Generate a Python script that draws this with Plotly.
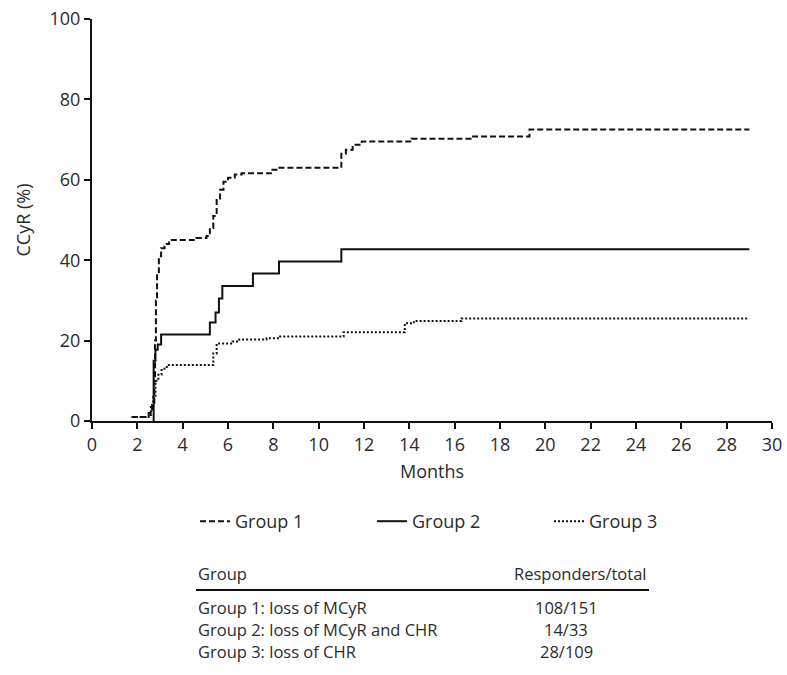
import plotly.graph_objects as go

# ---- data (months, CCyR %) ----
g1_months = [1.75, 2.5, 2.65, 2.75, 2.78, 2.82, 2.87, 2.95, 3.05, 3.2, 3.4, 4.6, 5.05, 5.2, 5.35, 5.5,
             5.65, 5.8, 6.0, 6.3, 6.6, 7.9, 8.2, 11.0, 11.2, 11.5, 11.9, 14.1, 16.7, 19.3, 29.0]
g1_ccyr = [1.0, 2.0, 4.0, 10.0, 20.0, 30.0, 37.0, 41.0, 43.0, 44.0, 45.0, 45.5, 46.0, 48.0, 51.0, 55.0,
           57.5, 59.5, 60.5, 61.3, 61.6, 62.5, 63.0, 66.5, 67.5, 68.7, 69.5, 70.2, 70.8, 72.5, 72.5]

g2_months = [2.7, 2.72, 2.8, 2.9, 3.05, 5.2, 5.45, 5.6, 5.75, 7.1, 8.25, 11.0, 29.0]
g2_ccyr = [0.0, 15.0, 17.7, 19.0, 21.5, 24.5, 27.0, 30.5, 33.6, 36.7, 39.7, 42.7, 42.7]

g3_months = [1.75, 2.5, 2.6, 2.7, 2.8, 2.93, 3.07, 3.3, 5.35, 5.5, 6.2, 6.5, 7.7, 8.3, 11.1,
             13.8, 14.2, 16.3, 29.0]
g3_ccyr = [1.0, 1.5, 3.5, 6.0, 10.0, 11.5, 13.0, 13.9, 16.8, 19.3, 19.8, 20.3, 20.6, 21.0, 22.1,
           24.3, 24.9, 25.5, 25.5]

series_names = ["Group 1", "Group 2", "Group 3"]
table_header = ["Group", "Responders/total"]
table_groups = ["Group 1: loss of MCyR", "Group 2: loss of MCyR and CHR", "Group 3: loss of CHR"]
table_ratios = ["108/151", "14/33", "28/109"]

x_ticks = list(range(0, 31, 2))
y_ticks = list(range(0, 101, 20))

# ---- styling ----
FONT = "Open Sans"
INK = "#111111"
TXT = "#2b2b2b"
FS = 18
FS_TAB = 16.5
W, H = 787, 675
L, R, T, B = 92, 15, 19, 254
PW = W - L - R
PH = H - T - B


def px(xp):
    return (xp - L) / PW


def py(yp):
    return (H - B - yp) / PH


fig = go.Figure()
styles = [dict(dash="6px,3px", width=2), dict(dash="solid", width=2), dict(dash="2px,2px", width=2)]
for name, xs, ys, st in zip(series_names, [g1_months, g2_months, g3_months],
                            [g1_ccyr, g2_ccyr, g3_ccyr], styles):
    fig.add_trace(go.Scatter(x=xs, y=ys, mode="lines", name=name, line_shape="hv",
                             line=dict(color=INK, width=st["width"], dash=st["dash"])))

axis_common = dict(showgrid=False, zeroline=False, showline=True, linecolor=INK, linewidth=2,
                   ticks="outside", ticklen=6, tickwidth=1.5, tickcolor=INK,
                   ticklabeloverflow="allow",
                   tickfont=dict(family=FONT, size=FS, color=TXT))

fig.update_xaxes(range=[0, 30], tickvals=x_ticks, **axis_common,
                 title=dict(text="Months", font=dict(family=FONT, size=FS, color=TXT), standoff=11))
fig.update_yaxes(range=[0, 100], tickvals=y_ticks, **axis_common,
                 title=dict(text="CCyR (%)", font=dict(family=FONT, size=FS, color=TXT), standoff=14))

annotations = []
annotations.append(dict(x=px(196), y=py(573), text=table_header[0], xanchor="left", yanchor="middle"))
annotations.append(dict(x=px(649), y=py(573), text=table_header[1], xanchor="right", yanchor="middle"))
row_y = [607, 629, 651]
for g, r, yy in zip(table_groups, table_ratios, row_y):
    annotations.append(dict(x=px(196), y=py(yy), text=g, xanchor="left", yanchor="middle"))
    annotations.append(dict(x=px(566), y=py(yy), text=r, xanchor="center", yanchor="middle"))
for a in annotations:
    a.update(xref="paper", yref="paper", showarrow=False,
             font=dict(family=FONT, size=FS_TAB, color=TXT))

fig.update_layout(
    width=W, height=H,
    margin=dict(l=L, r=R, t=T, b=B, autoexpand=False),
    paper_bgcolor="white", plot_bgcolor="white",
    showlegend=True,
    legend=dict(orientation="h", x=px(195), y=py(503), xanchor="left", yanchor="top",
                entrywidth=132, entrywidthmode="pixels", itemwidth=30,
                font=dict(family=FONT, size=FS, color=TXT), bgcolor="rgba(0,0,0,0)"),
    annotations=annotations,
    shapes=[dict(type="line", xref="paper", yref="paper", x0=px(196), x1=px(649),
                 y0=py(590), y1=py(590), line=dict(color=INK, width=2))],
)

fig.write_html("out.html", config={"displayModeBar": False},
               post_script="document.body.style.margin='0px';document.body.style.overflow='hidden';")
